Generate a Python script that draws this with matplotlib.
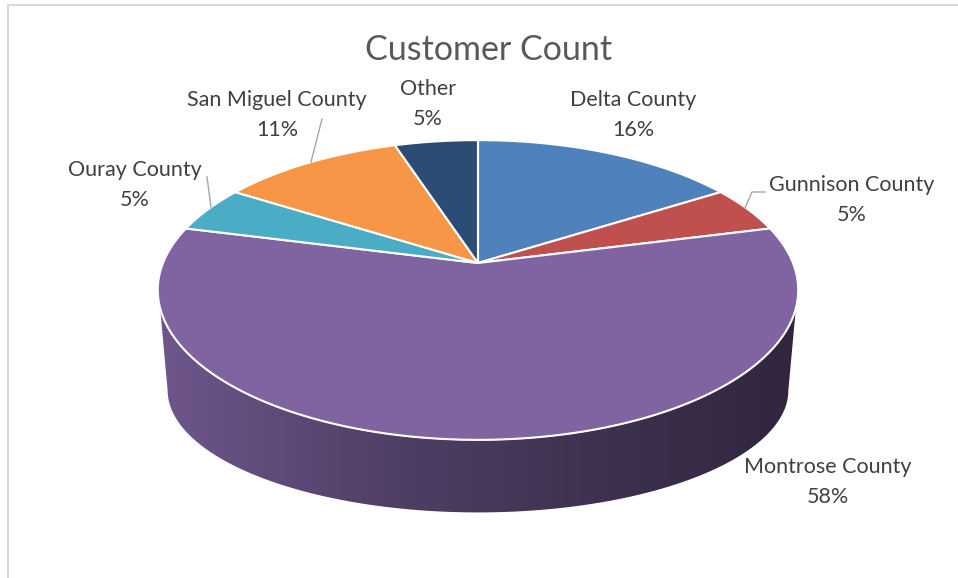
import numpy as np
import matplotlib
matplotlib.use('Agg')
import matplotlib.pyplot as plt
from matplotlib.patches import Polygon
from matplotlib.colors import to_rgb

# data
labels = ['Delta County', 'Gunnison County', 'Montrose County',
          'Ouray County', 'San Miguel County', 'Other']
values = [16, 5, 58, 5, 11, 5]
colors = ['#4F81BD', '#C0504D', '#8064A2', '#4BACC6', '#F79646', '#2B4C74']

# label positions (pixels) and leader lines
label_pos = [(633, 100), (852, 185), (828, 467), (135, 170), (277, 100), (428, 89)]
leaders = {1: [(765, 192), (752, 192), (745, 208)],
           3: [(207, 177), (211, 207)],
           4: [(322, 119), (311, 162)]}

# pseudo-3d projection (pixels)
CX, CY = 478, 263
C = 0.18
A, B = 315, 145          # top face
AB, BB, CYB = 306, 119, 368   # bottom face


def top_pt(t):
    u, v = np.cos(t), np.sin(t)
    w = 1 + C * v
    return np.column_stack([CX + A * u / w, CY - B * v / w])


def bot_pt(t):
    u, v = np.cos(t), np.sin(t)
    w = 1 + C * v
    return np.column_stack([CX + AB * u / w, CYB - BB * v / w])


def shade(x):
    return np.interp(x, [160, 400, 580, 795], [0.86, 0.62, 0.50, 0.38])


fig = plt.figure(figsize=(9.58, 5.78), dpi=100)
ax = fig.add_axes([0, 0, 1, 1])
ax.set_xlim(0, 958)
ax.set_ylim(578, 0)
ax.axis('off')

# chart border
ax.plot([8, 8, 960], [580, 5, 5], color='#D9D9D9', lw=1.5)

# wedge angles, clockwise from 12 o'clock
fracs = np.array(values) / sum(values)
starts = np.pi / 2 - 2 * np.pi * np.concatenate([[0], np.cumsum(fracs)[:-1]])
ends = starts - 2 * np.pi * fracs

# visible front side range
vis_a = np.pi + np.arcsin(C)
vis_b = 2 * np.pi - np.arcsin(C)

for s, e, col in zip(starts, ends, colors):
    # wedge goes from s down to e; map into [vis_a, vis_b]
    for k in (-1, 0, 1):
        lo = max(e + 2 * np.pi * k, vis_a)
        hi = min(s + 2 * np.pi * k, vis_b)
        if hi <= lo:
            continue
        t = np.linspace(lo, hi, 200)
        pts = np.vstack([top_pt(t), bot_pt(t[::-1])])
        poly = Polygon(pts, closed=True, facecolor='none', edgecolor='white', lw=1.0, zorder=3)
        ax.add_patch(poly)
        xs = np.linspace(pts[:, 0].min(), pts[:, 0].max(), 400)
        grad = np.array(to_rgb(col))[None, :] * shade(xs)[:, None]
        im = ax.imshow(grad[None, :, :], extent=(xs[0], xs[-1], pts[:, 1].max(), pts[:, 1].min()),
                       aspect='auto', zorder=2, interpolation='bilinear')
        clip = Polygon(pts, closed=True, transform=ax.transData)
        im.set_clip_path(clip)

# top face
for s, e, col in zip(starts, ends, colors):
    t = np.linspace(s, e, 200)
    pts = np.vstack([[CX, CY], top_pt(t)])
    ax.add_patch(Polygon(pts, closed=True, facecolor=col, edgecolor='white', lw=1.5,
                         joinstyle='round', zorder=4))

# labels
font = 'Lato'
for i, (lab, val) in enumerate(zip(labels, values)):
    x, y = label_pos[i]
    ax.text(x, y, lab, ha='center', va='center', fontsize=15.5, color='#404040', family=font)
    ax.text(x, y + 30, f'{val}%', ha='center', va='center', fontsize=15.5, color='#404040', family=font)

for pts in leaders.values():
    pts = np.array(pts)
    ax.plot(pts[:, 0], pts[:, 1], color='#A6A6A6', lw=1.0, zorder=5)

ax.text(489, 50, 'Customer Count', ha='center', va='center', fontsize=24.5, color='#595959', family=font)

fig.savefig('out.png', dpi=100)
